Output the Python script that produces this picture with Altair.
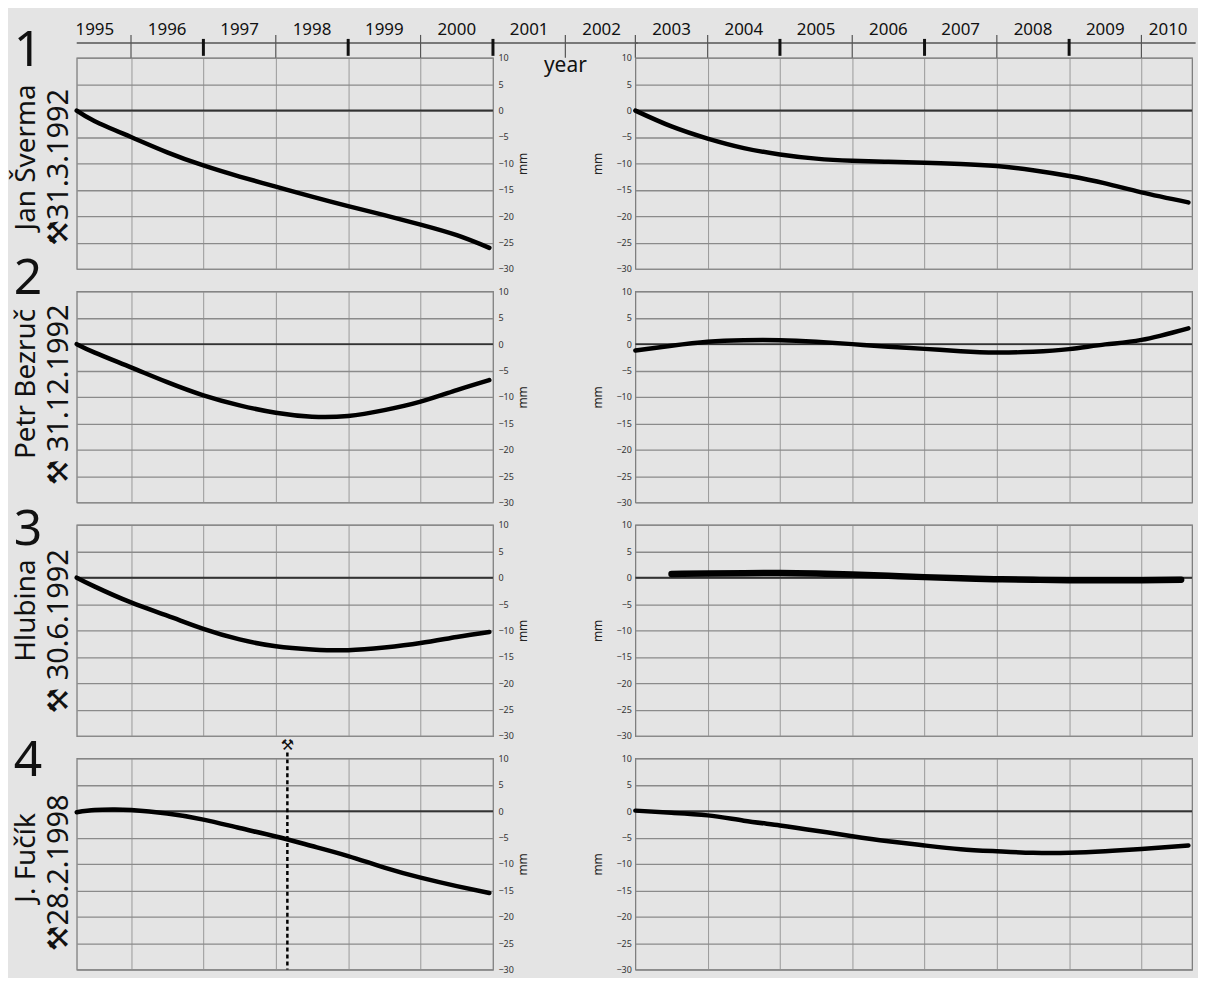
import altair as alt
import pandas as pd

# ------------------------------------------------------------------ data
mine_numbers = ["1", "2", "3", "4"]
mine_names = ["Jan Šverma", "Petr Bezruč", "Hlubina", "J. Fučík"]
closure_dates = ["⚒31.3.1992", "⚒ 31.12.1992", "⚒ 30.6.1992", "⚒28.2.1998"]

left_domain = [1995.25, 2001.0]
right_domain = [2003.0, 2010.7]
axis_line_left = [1995.25, 2003.0]
axis_line_right = [2003.0, 2010.75]
y_domain = [-30, 10]
y_ticks = [-30, -25, -20, -15, -10, -5, 0, 5, 10]
zero_level = [0]

axis_years = list(range(1995, 2011))
thick_tick_years = [1997, 1999, 2001, 2005, 2007, 2009]
thin_tick_years = [1996, 1998, 2000, 2002, 2003, 2004, 2006, 2008, 2010]
left_grid_years = [1996, 1997, 1998, 1999, 2000]
right_grid_years = [2004, 2005, 2006, 2007, 2008, 2009, 2010]
axis_title_year = [2002.0]

x_left = [1995.25, 1995.5, 1996.0, 1996.5, 1997.0, 1997.5, 1998.0, 1998.5,
          1999.0, 1999.5, 2000.0, 2000.5, 2000.95]
x_left_4 = [1995.25, 1995.5, 1995.75, 1996.0, 1996.5, 1997.0, 1997.5, 1998.0,
            1998.5, 1999.0, 1999.5, 2000.0, 2000.5, 2000.95]
x_right = [2003.0, 2003.5, 2004.0, 2004.5, 2005.0, 2005.5, 2006.0, 2006.5,
           2007.0, 2007.5, 2008.0, 2008.5, 2009.0, 2009.5, 2010.0, 2010.65]
x_right_3 = [2003.5, 2004.0, 2004.5, 2005.0, 2005.5, 2006.0, 2006.5, 2007.0,
             2007.5, 2008.0, 2008.5, 2009.0, 2009.5, 2010.0, 2010.55]

sverma_a = [0, -2.0, -5.0, -7.9, -10.4, -12.5, -14.4, -16.3, -18.1, -19.8, -21.6, -23.6, -26.0]
sverma_b = [0, -3.0, -5.3, -7.1, -8.3, -9.1, -9.5, -9.7, -9.9, -10.1, -10.5, -11.3, -12.4,
            -13.8, -15.5, -17.4]
bezruc_a = [0, -1.6, -4.4, -7.2, -9.7, -11.6, -13.0, -13.75, -13.6, -12.5, -10.9, -8.7, -6.8]
bezruc_b = [-1.2, -0.3, 0.45, 0.75, 0.75, 0.45, 0.0, -0.5, -0.9, -1.35, -1.6, -1.45, -0.95,
            -0.05, 0.8, 3.0]
hlubina_a = [0, -1.7, -4.7, -7.2, -9.7, -11.7, -13.0, -13.6, -13.75, -13.25, -12.4, -11.25, -10.3]
hlubina_b = [0.7, 0.8, 0.85, 0.9, 0.8, 0.6, 0.35, 0.1, -0.1, -0.3, -0.4, -0.5, -0.5, -0.5, -0.4]
fucik_a = [-0.2, 0.2, 0.3, 0.2, -0.45, -1.6, -3.2, -4.8, -6.6, -8.5, -10.7, -12.6, -14.2, -15.5]
fucik_b = [0.1, -0.3, -0.8, -1.8, -2.7, -3.7, -4.75, -5.7, -6.5, -7.2, -7.6, -7.9, -7.9, -7.6,
           -7.15, -6.5]
fucik_closure = [1998.16]

# ------------------------------------------------------------------ style / layout
FONT = "Noto Sans, DejaVu Sans"
BG = "#e4e4e4"
LEFT_W, RIGHT_W, PANEL_H = 418, 559, 212
COL_GAP, ROW_GAP = 143, 22.5
# label offsets (pixels relative to each row's left panel)
digit_dy = [-7, -12, 5, 3]
name_dy = [100, 93, 86, 100]
date_dy = [110, 104, 107, 115]

yscale = alt.Scale(domain=y_domain, nice=False, zero=False)


def y_enc(orient):
    return alt.Y(
        "mm:Q", scale=yscale,
        axis=alt.Axis(
            orient=orient, values=y_ticks, grid=True, gridColor="#8a8a8a", gridWidth=1.3,
            ticks=False, domain=False, labelFontSize=9, labelColor="#333",
            labelPadding=5 if orient == "right" else 4, labelFlush=False,
            title="mm", titleAngle=270, titleFontSize=12, titleFontWeight="normal",
            titleColor="#222", titlePadding=16 if orient == "right" else 12,
        ),
    )


def x_enc(domain, grid_years):
    return alt.X(
        "year:Q", scale=alt.Scale(domain=domain, nice=False, zero=False),
        axis=alt.Axis(values=grid_years, grid=True, gridColor="#999", gridWidth=1,
                      labels=False, ticks=False, domain=False, title=None),
    )


def panel(xs, ys, domain, grid_years, orient, width, line_w=4.5, extra=None):
    xe = x_enc(domain, grid_years)
    ye = y_enc(orient)
    zero = alt.Chart(pd.DataFrame({"mm": zero_level})).mark_rule(
        color="#333", strokeWidth=2).encode(y=ye)
    line = alt.Chart(pd.DataFrame({"year": xs, "mm": ys})).mark_line(
        color="black", strokeWidth=line_w, interpolate="natural", strokeCap="round"
    ).encode(x=xe, y=ye)
    layers = [zero, line]
    if extra:
        layers += extra(xe)
    return alt.layer(*layers).properties(width=width, height=PANEL_H)


def labels(i):
    digit = alt.Chart(pd.DataFrame({"t": [mine_numbers[i]]})).mark_text(
        font=FONT, fontSize=50, color="#111", baseline="middle", align="center"
    ).encode(x=alt.value(-49), y=alt.value(digit_dy[i]), text="t:N")
    name = alt.Chart(pd.DataFrame({"t": [mine_names[i]]})).mark_text(
        font=FONT, fontSize=28, color="#111", angle=270, baseline="middle", align="center"
    ).encode(x=alt.value(-50), y=alt.value(name_dy[i]), text="t:N")
    date = alt.Chart(pd.DataFrame({"t": [closure_dates[i]]})).mark_text(
        font=FONT, fontSize=29, color="#111", angle=270, baseline="middle", align="center"
    ).encode(x=alt.value(-18), y=alt.value(date_dy[i]), text="t:N")
    return [digit, name, date]


def closure_marks(xe):
    df = pd.DataFrame({"year": fucik_closure, "t": ["⚒"]})
    rule = alt.Chart(df).mark_rule(color="black", strokeWidth=2.5, strokeDash=[4, 3]).encode(
        x=xe, y=alt.value(-6), y2=alt.value(PANEL_H))
    sym = alt.Chart(df).mark_text(font=FONT, fontSize=15, color="#111", baseline="middle").encode(
        x=xe, y=alt.value(-13), text="t:N")
    return [rule, sym]


def year_axis(xe, line_span, lo, hi, with_title):
    """Top year axis pieces drawn through the panel's own x scale."""
    out = []
    out.append(alt.Chart(pd.DataFrame({"year": [line_span[0]], "year_end": [line_span[1]]}))
               .mark_rule(color="#555", strokeWidth=1.5)
               .encode(x=xe, x2="year_end:Q", y=alt.value(-15)))
    thin = [y for y in thin_tick_years if lo <= y <= hi]
    thick = [y for y in thick_tick_years if lo <= y <= hi]
    out.append(alt.Chart(pd.DataFrame({"year": thin})).mark_rule(color="#555", strokeWidth=1.2)
               .encode(x=xe, y=alt.value(-23), y2=alt.value(0)))
    out.append(alt.Chart(pd.DataFrame({"year": thick})).mark_rule(color="#111", strokeWidth=3)
               .encode(x=xe, y=alt.value(-19), y2=alt.value(-2)))
    labs = [y for y in axis_years if lo <= y <= hi]
    out.append(alt.Chart(pd.DataFrame({"label": labs}))
               .transform_calculate(year="min(datum.label + 0.5, 2010.37)")
               .mark_text(font=FONT, fontSize=17, color="#111", baseline="middle")
               .encode(x=xe, y=alt.value(-28), text="label:N"))
    if with_title:
        out.append(alt.Chart(pd.DataFrame({"year": axis_title_year, "t": ["year"]}))
                   .mark_text(font=FONT, fontSize=21, color="#111", baseline="middle")
                   .encode(x=xe, y=alt.value(8), text="t:N"))
    return out


series = [
    (x_left, sverma_a, x_right, sverma_b, 4.5),
    (x_left, bezruc_a, x_right, bezruc_b, 4.5),
    (x_left, hlubina_a, x_right_3, hlubina_b, 6.5),
    (x_left_4, fucik_a, x_right, fucik_b, 4.5),
]

cells = []
for i, (xl, yl, xr, yr, wr) in enumerate(series):
    def extra_left(xe, i=i):
        out = labels(i)
        if i == 0:
            out += year_axis(xe, axis_line_left, 1995, 2002, True)
        if i == 3:
            out += closure_marks(xe)
        return out

    def extra_right(xe, i=i):
        if i == 0:
            return year_axis(xe, axis_line_right, 2003, 2010, False)
        return []

    cells.append(panel(xl, yl, left_domain, left_grid_years, "right", LEFT_W, extra=extra_left))
    cells.append(panel(xr, yr, right_domain, right_grid_years, "left", RIGHT_W, line_w=wr,
                       extra=extra_right))

chart = alt.concat(
    *cells, columns=2, spacing={"row": ROW_GAP, "column": COL_GAP}, bounds="flush"
).properties(
    background=BG,
    padding={"left": 4, "top": 10, "right": 0, "bottom": 0},
).configure_view(stroke="#777", strokeWidth=1.2).configure_axis(
    labelFont=FONT, titleFont=FONT)

chart.save("out.html", embed_options={"renderer": "svg", "actions": False})
